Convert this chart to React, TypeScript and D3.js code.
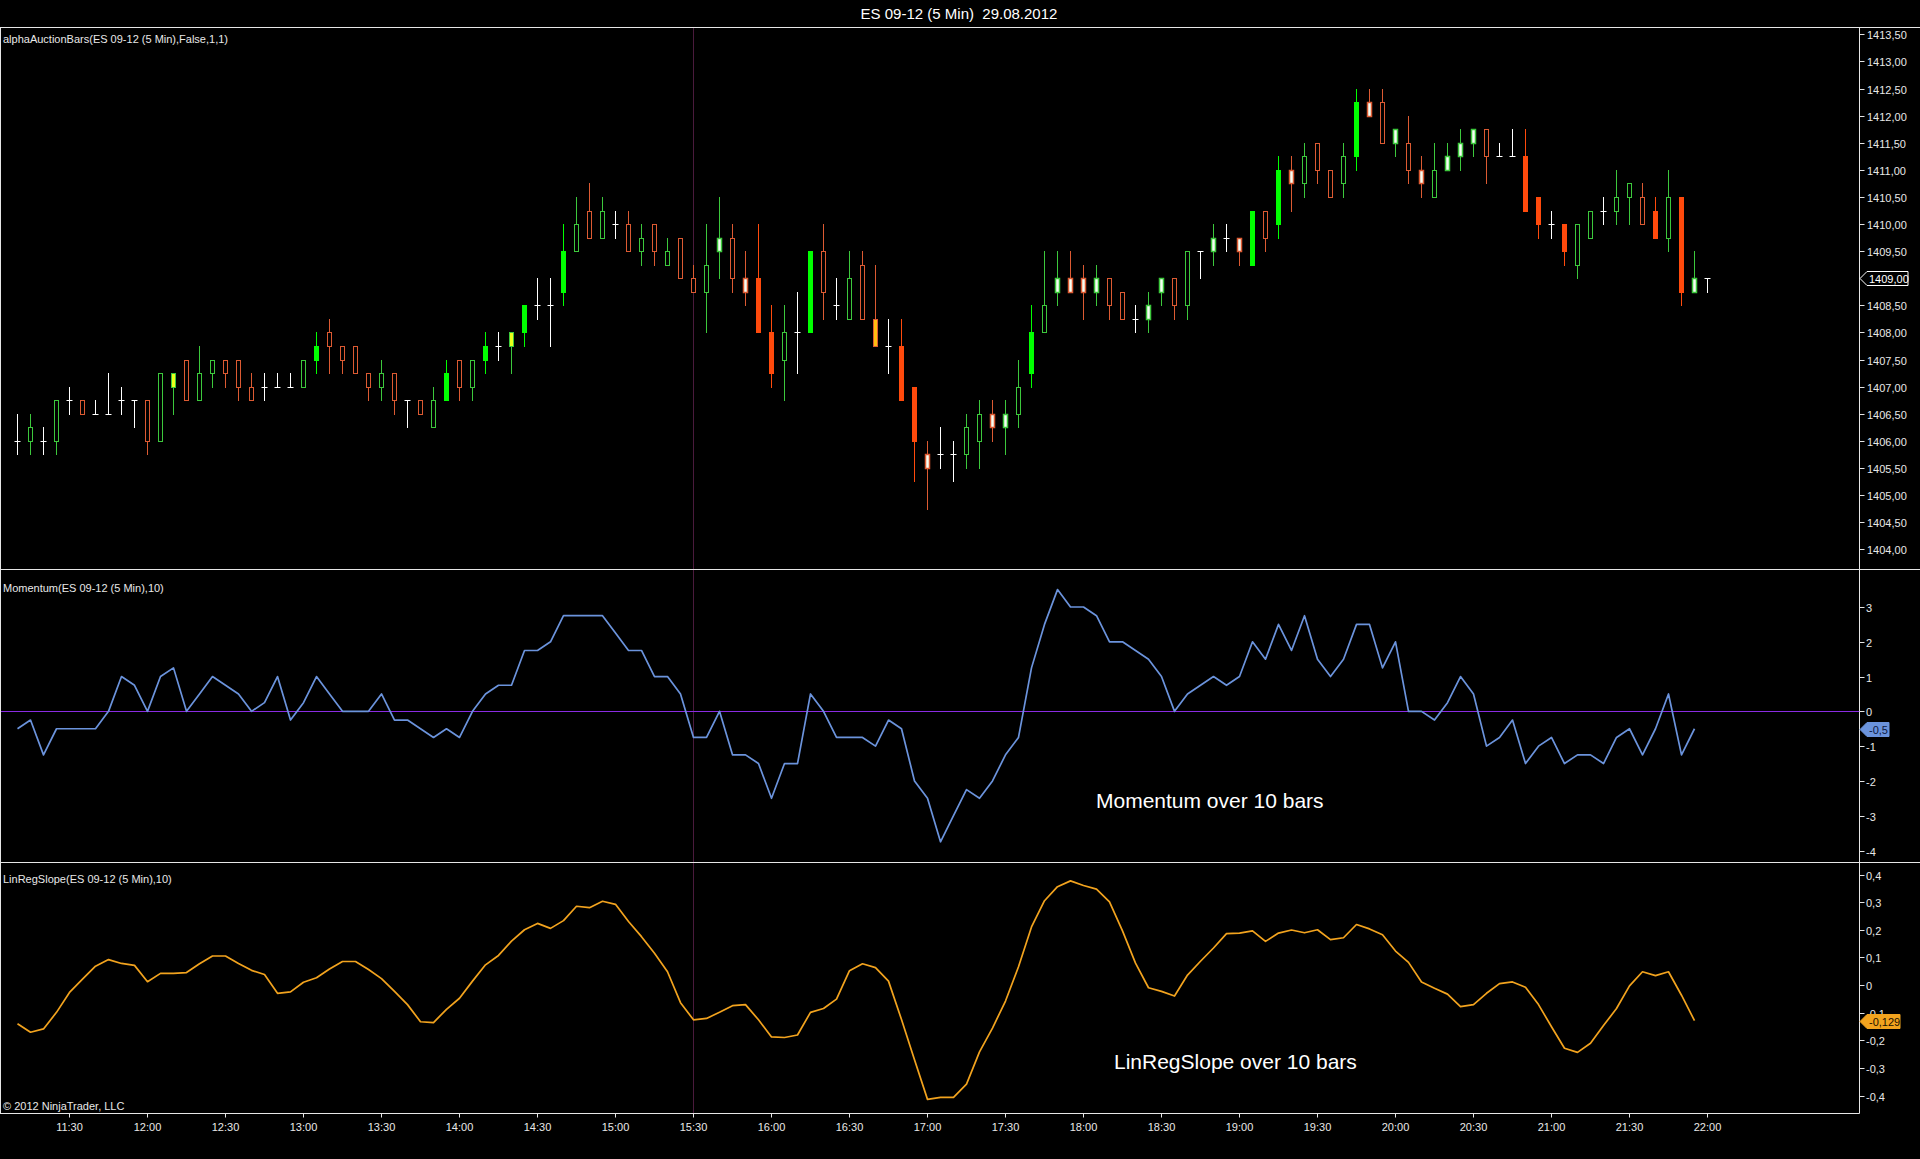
import React, { useEffect } from "react";
import * as d3 from "d3";

const W = 1920;
const H = 1159;

// bars are 5 minutes, first one at 11:10 on 29.08.2012
const firstBar = new Date(2012, 7, 29, 11, 10);
const barMinutes = 5;

const open = [
  1406.00, 1406.00, 1406.00, 1406.00, 1406.75, 1406.75, 1406.50, 1406.50, 1406.75, 1406.75,
  1406.75, 1406.00, 1407.00, 1407.50, 1406.75, 1407.25, 1407.50, 1407.50, 1407.00, 1407.00,
  1407.00, 1407.00, 1407.00, 1407.50, 1408.00, 1407.75, 1407.75, 1407.25, 1407.00, 1407.25,
  1406.75, 1406.75, 1406.25, 1406.75, 1407.50, 1407.00, 1407.50, 1407.75, 1407.75, 1408.00,
  1408.50, 1408.50, 1408.75, 1409.50, 1410.25, 1409.75, 1410.00, 1410.00, 1409.50, 1410.00,
  1409.25, 1409.75, 1409.00, 1408.75, 1409.50, 1409.75, 1409.00, 1409.00, 1408.00, 1407.50,
  1408.00, 1408.00, 1409.50, 1408.50, 1408.25, 1409.25, 1408.25, 1407.75, 1407.75, 1407.00,
  1405.75, 1405.75, 1405.75, 1405.75, 1406.00, 1406.50, 1406.25, 1406.50, 1407.25, 1408.00,
  1408.75, 1409.00, 1409.00, 1408.75, 1409.00, 1408.75, 1408.25, 1408.25, 1408.75, 1409.00,
  1408.50, 1409.50, 1409.50, 1409.75, 1409.75, 1409.25, 1410.25, 1410.00, 1411.00, 1410.75,
  1411.50, 1411.00, 1410.75, 1411.25, 1412.25, 1412.25, 1411.50, 1411.50, 1411.00, 1410.50,
  1411.00, 1411.25, 1411.50, 1411.75, 1411.25, 1411.25, 1411.25, 1410.50, 1410.00, 1410.00,
  1409.25, 1409.75, 1410.25, 1410.25, 1410.50, 1410.50, 1410.25, 1409.75, 1410.50, 1408.75,
  1409.00,
];

const high = [
  1406.50, 1406.50, 1406.25, 1406.75, 1407.00, 1406.75, 1406.75, 1407.25, 1407.00, 1406.75,
  1406.75, 1407.25, 1407.25, 1407.50, 1407.75, 1407.50, 1407.50, 1407.50, 1407.25, 1407.25,
  1407.25, 1407.25, 1407.50, 1408.00, 1408.25, 1407.75, 1407.75, 1407.25, 1407.50, 1407.25,
  1406.75, 1406.75, 1407.00, 1407.50, 1407.50, 1407.50, 1408.00, 1408.00, 1408.00, 1408.50,
  1409.00, 1409.00, 1410.00, 1410.50, 1410.75, 1410.50, 1410.25, 1410.25, 1410.00, 1410.00,
  1409.75, 1409.75, 1409.25, 1410.00, 1410.50, 1410.00, 1409.50, 1410.00, 1408.50, 1408.50,
  1408.75, 1409.50, 1410.00, 1409.00, 1409.50, 1409.50, 1409.25, 1408.25, 1408.25, 1407.00,
  1406.00, 1406.25, 1406.00, 1406.50, 1406.75, 1406.75, 1406.75, 1407.50, 1408.50, 1409.50,
  1409.50, 1409.50, 1409.25, 1409.25, 1409.00, 1408.75, 1408.50, 1408.75, 1409.00, 1409.00,
  1409.50, 1409.50, 1410.00, 1410.00, 1409.75, 1410.25, 1410.25, 1411.25, 1411.25, 1411.50,
  1411.50, 1411.00, 1411.50, 1412.50, 1412.50, 1412.50, 1411.75, 1412.00, 1411.25, 1411.50,
  1411.50, 1411.75, 1411.75, 1411.75, 1411.50, 1411.75, 1411.75, 1410.50, 1410.25, 1410.00,
  1410.00, 1410.25, 1410.50, 1411.00, 1410.75, 1410.75, 1410.50, 1411.00, 1410.50, 1409.50,
  1409.00,
];

const low = [
  1405.75, 1405.75, 1405.75, 1405.75, 1406.50, 1406.50, 1406.50, 1406.50, 1406.50, 1406.25,
  1405.75, 1406.00, 1406.50, 1406.75, 1406.75, 1407.00, 1407.00, 1406.75, 1406.75, 1406.75,
  1407.00, 1407.00, 1407.00, 1407.25, 1407.25, 1407.25, 1407.25, 1406.75, 1406.75, 1406.50,
  1406.25, 1406.50, 1406.25, 1406.75, 1406.75, 1406.75, 1407.25, 1407.50, 1407.25, 1407.75,
  1408.25, 1407.75, 1408.50, 1409.50, 1409.75, 1409.75, 1409.75, 1409.50, 1409.25, 1409.25,
  1409.25, 1409.00, 1408.75, 1408.00, 1409.00, 1408.75, 1408.50, 1408.00, 1407.00, 1406.75,
  1407.25, 1408.00, 1408.25, 1408.25, 1408.25, 1408.25, 1407.75, 1407.25, 1406.75, 1405.25,
  1404.75, 1405.50, 1405.25, 1405.50, 1405.50, 1406.00, 1405.75, 1406.25, 1407.00, 1408.00,
  1408.50, 1408.75, 1408.25, 1408.50, 1408.25, 1408.25, 1408.00, 1408.00, 1408.50, 1408.25,
  1408.25, 1409.00, 1409.25, 1409.50, 1409.25, 1409.25, 1409.50, 1409.75, 1410.25, 1410.50,
  1410.75, 1410.50, 1410.50, 1411.00, 1412.00, 1411.50, 1411.25, 1410.75, 1410.50, 1410.50,
  1411.00, 1411.00, 1411.25, 1410.75, 1411.25, 1411.25, 1410.25, 1409.75, 1409.75, 1409.25,
  1409.00, 1409.75, 1410.00, 1410.00, 1410.00, 1410.00, 1409.75, 1409.50, 1408.50, 1408.75,
  1408.75,
];

const close = [
  1406.00, 1406.25, 1406.00, 1406.75, 1406.75, 1406.50, 1406.50, 1406.50, 1406.75, 1406.75,
  1406.00, 1407.25, 1407.25, 1406.75, 1407.25, 1407.50, 1407.25, 1407.00, 1406.75, 1407.00,
  1407.00, 1407.00, 1407.50, 1407.75, 1407.75, 1407.50, 1407.25, 1407.00, 1407.25, 1406.75,
  1406.75, 1406.50, 1406.75, 1407.25, 1407.00, 1407.50, 1407.75, 1407.75, 1408.00, 1408.50,
  1408.50, 1408.50, 1409.50, 1410.00, 1409.75, 1410.25, 1410.00, 1409.50, 1409.75, 1409.50,
  1409.50, 1409.00, 1408.75, 1409.25, 1409.75, 1409.00, 1408.75, 1408.00, 1407.25, 1408.00,
  1408.00, 1409.50, 1408.75, 1408.50, 1409.00, 1408.25, 1407.75, 1407.75, 1406.75, 1406.00,
  1405.50, 1405.75, 1405.75, 1406.25, 1406.50, 1406.25, 1406.50, 1407.00, 1408.00, 1408.50,
  1409.00, 1408.75, 1408.75, 1409.00, 1408.50, 1408.25, 1408.25, 1408.50, 1409.00, 1408.50,
  1409.50, 1409.50, 1409.75, 1409.75, 1409.50, 1410.25, 1409.75, 1411.00, 1410.75, 1411.25,
  1411.00, 1410.50, 1411.25, 1412.25, 1412.00, 1411.50, 1411.75, 1411.00, 1410.75, 1411.00,
  1411.25, 1411.50, 1411.75, 1411.25, 1411.25, 1411.25, 1410.25, 1410.00, 1410.00, 1409.50,
  1410.00, 1410.25, 1410.25, 1410.50, 1410.75, 1410.00, 1409.75, 1410.50, 1408.75, 1409.00,
  1409.00,
];

// alphaAuctionBars paint: u/d hollow up/down, U/D solid, wu/wd white body, Y/G yellow/gold, x doji
const barStyle = [
  "x", "u", "x", "u", "x", "d", "x", "x", "x", "x",
  "d", "u", "Y", "d", "u", "u", "d", "d", "d", "x",
  "x", "x", "u", "U", "d", "d", "d", "d", "u", "d",
  "x", "d", "u", "U", "d", "u", "U", "x", "Y", "U",
  "x", "x", "U", "u", "d", "u", "x", "d", "u", "d",
  "u", "d", "d", "u", "wu", "d", "wd", "D", "D", "u",
  "x", "U", "d", "x", "u", "d", "G", "x", "D", "D",
  "wd", "x", "x", "u", "u", "wd", "wu", "u", "U", "u",
  "wu", "wd", "wd", "wu", "d", "d", "x", "wu", "wu", "d",
  "u", "x", "wu", "x", "wd", "U", "d", "U", "wd", "u",
  "d", "d", "u", "U", "wd", "d", "wu", "d", "wd", "u",
  "wu", "wu", "wu", "d", "x", "x", "D", "D", "x", "D",
  "u", "u", "x", "u", "u", "d", "D", "u", "D", "wu",
  "x",
];

// Momentum(10), last bar still open so no value
const momentum = [
  -0.5, -0.25, -1.25, -0.5, -0.5, -0.5, -0.5, 0, 1.0, 0.75,
  0, 1.0, 1.25, 0, 0.5, 1.0, 0.75, 0.5, 0, 0.25,
  1.0, -0.25, 0.25, 1.0, 0.5, 0, 0, 0, 0.5, -0.25,
  -0.25, -0.5, -0.75, -0.5, -0.75, 0, 0.5, 0.75, 0.75, 1.75,
  1.75, 2.0, 2.75, 2.75, 2.75, 2.75, 2.25, 1.75, 1.75, 1.0,
  1.0, 0.5, -0.75, -0.75, 0, -1.25, -1.25, -1.5, -2.5, -1.5,
  -1.5, 0.5, 0, -0.75, -0.75, -0.75, -1.0, -0.25, -0.5, -2.0,
  -2.5, -3.75, -3.0, -2.25, -2.5, -2.0, -1.25, -0.75, 1.25, 2.5,
  3.5, 3.0, 3.0, 2.75, 2.0, 2.0, 1.75, 1.5, 1.0, 0,
  0.5, 0.75, 1.0, 0.75, 1.0, 2.0, 1.5, 2.5, 1.75, 2.75,
  1.5, 1.0, 1.5, 2.5, 2.5, 1.25, 2.0, 0, 0, -0.25,
  0.25, 1.0, 0.5, -1.0, -0.75, -0.25, -1.5, -1.0, -0.75, -1.5,
  -1.25, -1.25, -1.5, -0.75, -0.5, -1.25, -0.5, 0.5, -1.25, -0.5,
];

// LinRegSlope(10)
const linRegSlope = [
  -0.140, -0.171, -0.159, -0.099, -0.027, 0.021, 0.068, 0.092, 0.078, 0.071,
  0.012, 0.042, 0.042, 0.045, 0.077, 0.105, 0.105, 0.078, 0.053, 0.038,
  -0.030, -0.025, 0.010, 0.026, 0.058, 0.085, 0.085, 0.056, 0.023, -0.023,
  -0.071, -0.133, -0.136, -0.088, -0.048, 0.014, 0.073, 0.107, 0.159, 0.200,
  0.223, 0.205, 0.233, 0.285, 0.280, 0.303, 0.292, 0.230, 0.175, 0.115,
  0.048, -0.064, -0.126, -0.121, -0.099, -0.075, -0.071, -0.126, -0.188, -0.190,
  -0.181, -0.099, -0.085, -0.051, 0.052, 0.077, 0.063, 0.014, -0.125, -0.271,
  -0.414, -0.407, -0.407, -0.359, -0.242, -0.156, -0.058, 0.066, 0.210, 0.305,
  0.356, 0.377, 0.360, 0.347, 0.301, 0.196, 0.079, -0.010, -0.023, -0.040,
  0.036, 0.086, 0.134, 0.186, 0.188, 0.196, 0.158, 0.188, 0.199, 0.189,
  0.200, 0.164, 0.171, 0.219, 0.203, 0.182, 0.123, 0.082, 0.011, -0.012,
  -0.033, -0.078, -0.071, -0.030, 0.005, 0.011, -0.008, -0.071, -0.151, -0.229,
  -0.244, -0.211, -0.147, -0.085, -0.003, 0.048, 0.034, 0.048, -0.037, -0.129,
];

const priceTicks = [1413.5, 1413, 1412.5, 1412, 1411.5, 1411, 1410.5, 1410, 1409.5, 1409, 1408.5, 1408, 1407.5, 1407, 1406.5, 1406, 1405.5, 1405, 1404.5, 1404];
const momentumTicks = [3, 2, 1, 0, -1, -2, -3, -4];
const slopeTicks = [0.4, 0.3, 0.2, 0.1, 0, -0.1, -0.2, -0.3, -0.4];

const lastPrice = 1409.0;
const title = "ES 09-12 (5 Min)  29.08.2012";

const FONT = "'Liberation Sans', Arial, sans-serif";
const GREEN = "#3cc83c";
const RED = "#dc5a32";
const SOLID_GREEN = "#00ff00";
const SOLID_RED = "#ff4a0c";
const MOM_COLOR = "#6b93dc";
const SLOPE_COLOR = "#f2a31e";

const loc = d3.formatLocale({ decimal: ",", thousands: ".", grouping: [3], currency: ["", ""], minus: "-" });
const fmt2 = loc.format(".2f");
const fmt1 = loc.format(".1f");
const fmt3 = loc.format(".3f");
const fmtSlopeTick = (v: number) => (v === 0 ? "0" : fmt1(v));

const times = open.map((_, i) => d3.timeMinute.offset(firstBar, i * barMinutes));

const axisX = 1859.5;
const frameTop = 27.5;
const sep1 = 569.5;
const sep2 = 862.5;
const frameBottom = 1113.5;

const x = d3.scaleTime().domain([times[0], times[times.length - 1]]).range([17, 1707]);
const yPrice = d3.scaleLinear().domain([1404, 1413.5]).range([549.2, 34.4]);
const yMom = d3.scaleLinear().domain([-4, 3]).range([850.5, 607.0]);
const ySlope = d3.scaleLinear().domain([-0.4, 0.4]).range([1095.5, 874.5]);

const bx = (i: number) => Math.round(x(times[i])) + 0.5;

const Candle = ({ i }: { i: number }) => {
  const s = barStyle[i];
  const cx = bx(i);
  const o = open[i], c = close[i];
  const yTop = Math.round(yPrice(Math.max(o, c))) + 0.5;
  const yBot = Math.round(yPrice(Math.min(o, c))) + 0.5;
  const yH = Math.round(yPrice(high[i]));
  const yL = Math.round(yPrice(low[i]));
  const bodyH = Math.max(yBot - yTop, 1);
  if (s === "x") {
    return (
      <g stroke="#ffffff" strokeWidth={1}>
        <line x1={cx} x2={cx} y1={yH} y2={yL + 1} />
        <line x1={cx - 3} x2={cx + 3} y1={Math.round(yPrice(c)) + 0.5} y2={Math.round(yPrice(c)) + 0.5} />
      </g>
    );
  }
  const isUp = s === "u" || s === "U" || s === "wu" || s === "Y";
  const edge = isUp ? GREEN : RED;
  let fill = "#000000";
  let stroke = edge;
  let sw = 1;
  if (s === "U") { fill = SOLID_GREEN; stroke = SOLID_GREEN; }
  if (s === "D") { fill = SOLID_RED; stroke = SOLID_RED; }
  if (s === "wu" || s === "wd") { fill = "#f6fff4"; sw = 1.5; }
  if (s === "Y") { fill = "#eaff1a"; }
  if (s === "G") { fill = "#ffbf10"; }
  const wick = s === "U" ? SOLID_GREEN : s === "D" ? SOLID_RED : edge;
  return (
    <g>
      <line x1={cx} x2={cx} y1={yH} y2={yL + 1} stroke={wick} strokeWidth={1} />
      <rect x={cx - 2} y={yTop} width={4} height={bodyH} fill={fill} stroke={stroke} strokeWidth={sw} />
    </g>
  );
};

const Tag = ({ y, fill, stroke, color, text, w }: { y: number; fill: string; stroke: string; color: string; text: string; w: number }) => {
  const x0 = 1860;
  const path = `M${x0},${y} L${x0 + 7},${y - 7} L${x0 + 7 + w},${y - 7} L${x0 + 7 + w},${y + 7} L${x0 + 7},${y + 7} Z`;
  return (
    <g>
      <path d={path} fill={fill} stroke={stroke} strokeWidth={1} />
      <text x={x0 + 9} y={y + 4} fontSize={11} fill={color} fontFamily={FONT}>{text}</text>
    </g>
  );
};

const App = () => {
  useEffect(() => {
    document.body.style.margin = "0";
    document.body.style.background = "#000";
  }, []);

  const momLine = d3.line<number>()
    .x((_, i) => bx(i))
    .y((d) => yMom(d));
  const slopeLine = d3.line<number>()
    .x((_, i) => bx(i))
    .y((d) => ySlope(d));

  const timeTicks = x.ticks(d3.timeMinute.every(30)!);
  const fmtTime = d3.timeFormat("%H:%M");
  const lastMom = momentum[momentum.length - 1];
  const lastSlope = linRegSlope[linRegSlope.length - 1];

  return (
    <svg width={W} height={H} style={{ display: "block", background: "#000" }} fontFamily={FONT}>
      <rect x={0} y={0} width={W} height={H} fill="#000" />
      <text x={959} y={19} fontSize={15} fill="#ffffff" textAnchor="middle" style={{ whiteSpace: "pre" }}>{title}</text>

      {/* crosshair */}
      <line x1={693.5} x2={693.5} y1={frameTop} y2={frameBottom} stroke="#4a1a3c" strokeWidth={1} />

      {/* frame */}
      <g stroke="#e6e6e6" strokeWidth={1}>
        <line x1={0} x2={W} y1={frameTop} y2={frameTop} />
        <line x1={0} x2={W} y1={sep1} y2={sep1} />
        <line x1={0} x2={W} y1={sep2} y2={sep2} />
        <line x1={0} x2={axisX} y1={frameBottom} y2={frameBottom} />
        <line x1={axisX} x2={axisX} y1={frameTop} y2={frameBottom} />
        <line x1={0.5} x2={0.5} y1={frameTop} y2={frameBottom} />
      </g>

      {/* panel titles */}
      <g fontSize={11} fill="#e8e8e8">
        <text x={3} y={43}>alphaAuctionBars(ES 09-12 (5 Min),False,1,1)</text>
        <text x={3} y={592}>Momentum(ES 09-12 (5 Min),10)</text>
        <text x={3} y={883}>LinRegSlope(ES 09-12 (5 Min),10)</text>
        <text x={3} y={1110}>© 2012 NinjaTrader, LLC</text>
      </g>

      {/* price panel */}
      <g>{open.map((_, i) => <Candle key={i} i={i} />)}</g>

      {/* momentum panel */}
      <line x1={1} x2={axisX} y1={Math.round(yMom(0)) + 0.5} y2={Math.round(yMom(0)) + 0.5} stroke="#8a2be2" strokeWidth={1} />
      <path d={momLine(momentum) || ""} fill="none" stroke={MOM_COLOR} strokeWidth={1.7} strokeLinejoin="round" />

      {/* linreg panel */}
      <path d={slopeLine(linRegSlope) || ""} fill="none" stroke={SLOPE_COLOR} strokeWidth={1.7} strokeLinejoin="round" />

      <text x={1096} y={808} fontSize={21} fill="#ffffff">Momentum over 10 bars</text>
      <text x={1114} y={1069} fontSize={21} fill="#ffffff">LinRegSlope over 10 bars</text>

      {/* right axes */}
      <g fontSize={11} fill="#e8e8e8">
        {priceTicks.map((p) => {
          const yy = Math.round(yPrice(p)) + 0.5;
          return (
            <g key={p}>
              <line x1={axisX} x2={axisX + 5} y1={yy} y2={yy} stroke="#e6e6e6" />
              <text x={1867} y={yy + 4}>{fmt2(p)}</text>
            </g>
          );
        })}
        {momentumTicks.map((v) => {
          const yy = Math.round(yMom(v)) + 0.5;
          return (
            <g key={v}>
              <line x1={axisX} x2={axisX + 5} y1={yy} y2={yy} stroke="#e6e6e6" />
              <text x={1866} y={yy + 4}>{String(v)}</text>
            </g>
          );
        })}
        {slopeTicks.map((v) => {
          const yy = Math.round(ySlope(v)) + 0.5;
          return (
            <g key={v}>
              <line x1={axisX} x2={axisX + 5} y1={yy} y2={yy} stroke="#e6e6e6" />
              <text x={1866} y={yy + 4}>{fmtSlopeTick(v)}</text>
            </g>
          );
        })}
      </g>

      {/* last value tags */}
      <Tag y={Math.round(yPrice(lastPrice)) + 0.5} fill="#000" stroke="#ffffff" color="#ffffff" text={fmt2(lastPrice)} w={41} />
      <Tag y={Math.round(yMom(lastMom)) + 0.5} fill={MOM_COLOR} stroke={MOM_COLOR} color="#0b1740" text={fmt1(lastMom)} w={22} />
      <Tag y={Math.round(ySlope(lastSlope)) + 0.5} fill={SLOPE_COLOR} stroke={SLOPE_COLOR} color="#1a1000" text={fmt3(lastSlope)} w={33} />

      {/* time axis */}
      <g fontSize={11} fill="#e8e8e8">
        {timeTicks.map((t) => {
          const xx = Math.round(x(t)) + 0.5;
          return (
            <g key={+t}>
              <line x1={xx} x2={xx} y1={frameBottom} y2={frameBottom + 4} stroke="#e6e6e6" />
              <text x={xx} y={1131} textAnchor="middle">{fmtTime(t)}</text>
            </g>
          );
        })}
      </g>
    </svg>
  );
};

export default App;
